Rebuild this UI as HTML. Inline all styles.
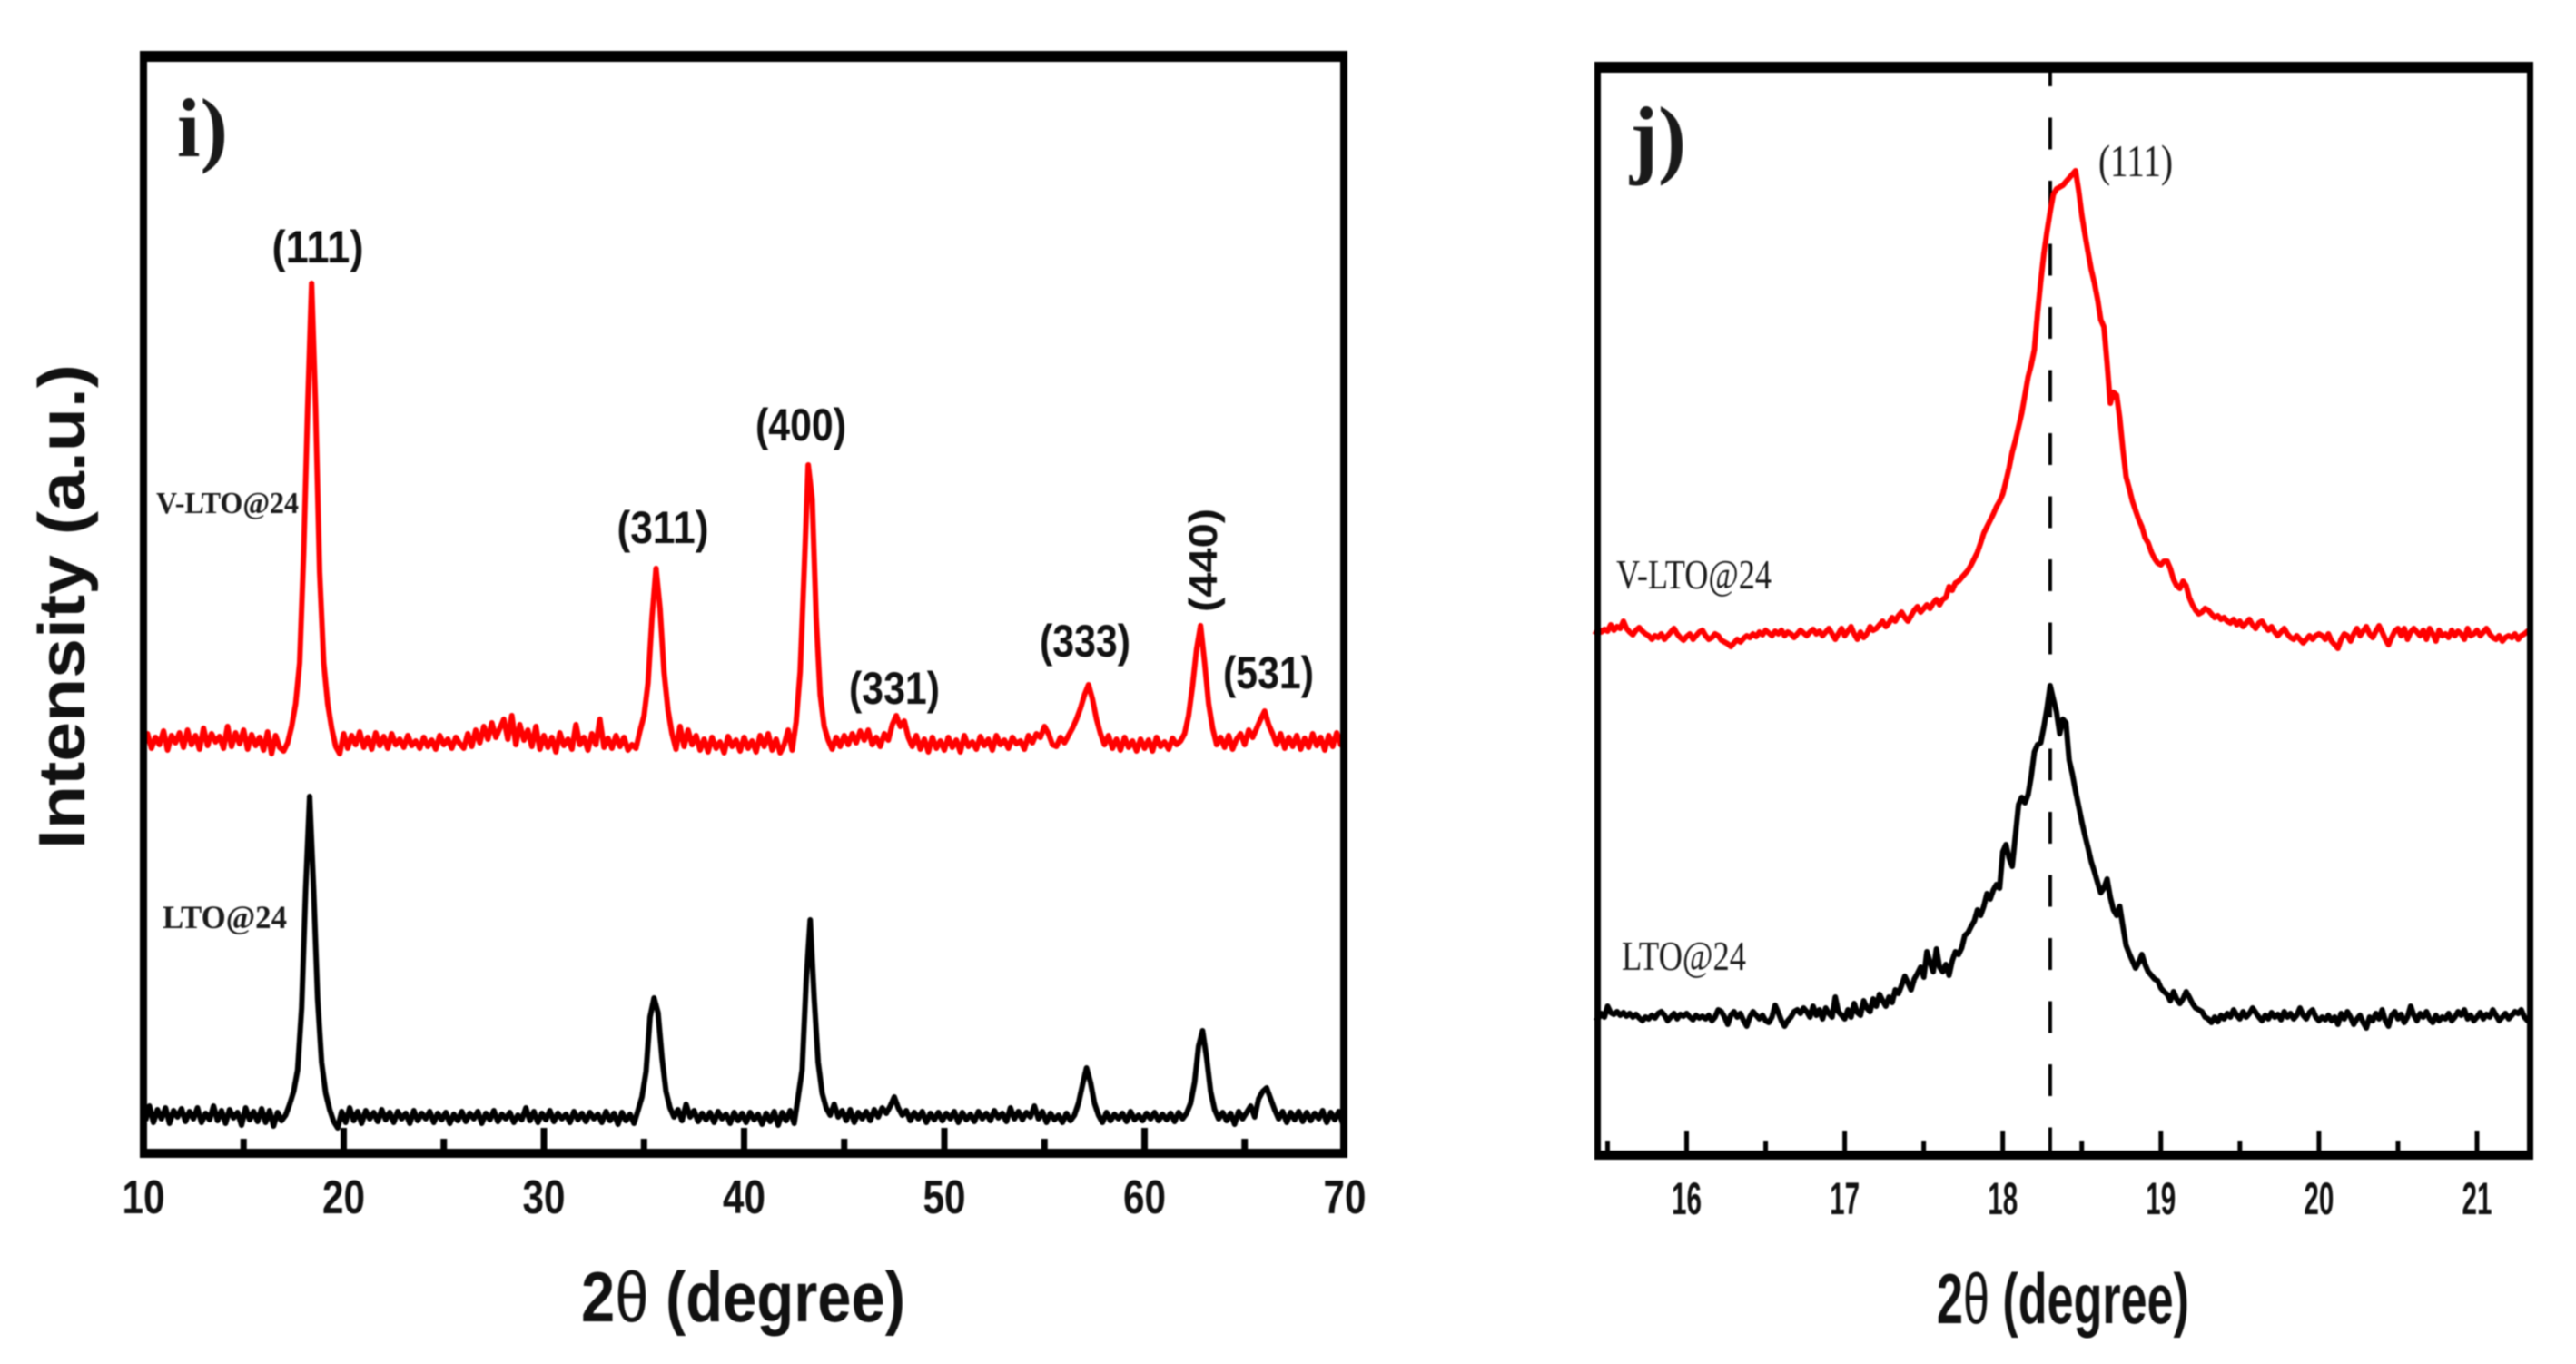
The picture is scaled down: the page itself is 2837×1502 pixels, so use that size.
<!DOCTYPE html>
<html lang="en">
<head>
<meta charset="utf-8">
<title>XRD patterns of V-LTO@24 and LTO@24</title>
<style>
html,body{margin:0;padding:0;background:#fff;width:2837px;height:1502px;overflow:hidden}
svg{display:block;filter:blur(0.8px)}
.sans{font-family:"Liberation Sans",Arial,sans-serif;font-weight:700;fill:#111}
.serif{font-family:"Liberation Serif","Times New Roman",serif;fill:#1a1a1a}
</style>
</head>
<body>
<svg id="figure" xmlns="http://www.w3.org/2000/svg" width="2837" height="1502" viewBox="0 0 2837 1502">
  <rect x="0" y="0" width="2837" height="1502" fill="#fff"/>

  <g id="panel-i">
    <g id="series-i"></g>
    <g fill="#000">
      <rect x="154" y="56" width="1330" height="12"/>
      <rect x="154" y="1265" width="1330" height="10"/>
      <rect x="154" y="56" width="8" height="1219"/>
      <rect x="1476" y="56" width="8" height="1219"/>
    </g>
    <g id="ticks-i"></g>
    <text class="serif" x="195" y="172" font-size="92" font-weight="700" textLength="56" lengthAdjust="spacingAndGlyphs">i)</text>
    <text class="sans" x="350" y="289" font-size="50" text-anchor="middle" textLength="101" lengthAdjust="spacingAndGlyphs">(111)</text>
    <text class="sans" x="730" y="598" font-size="50" text-anchor="middle" textLength="101" lengthAdjust="spacingAndGlyphs">(311)</text>
    <text class="sans" x="882" y="485" font-size="50" text-anchor="middle" textLength="100" lengthAdjust="spacingAndGlyphs">(400)</text>
    <text class="sans" x="985" y="775" font-size="50" text-anchor="middle" textLength="100" lengthAdjust="spacingAndGlyphs">(331)</text>
    <text class="sans" x="1195" y="723" font-size="50" text-anchor="middle" textLength="100" lengthAdjust="spacingAndGlyphs">(333)</text>
    <text class="sans" transform="translate(1340 617) rotate(-90)" font-size="44" text-anchor="middle" textLength="114" lengthAdjust="spacingAndGlyphs">(440)</text>
    <text class="sans" x="1397" y="758" font-size="50" text-anchor="middle" textLength="100" lengthAdjust="spacingAndGlyphs">(531)</text>
    <text class="serif" x="172" y="565" font-size="34" font-weight="700" textLength="157" lengthAdjust="spacingAndGlyphs">V-LTO@24</text>
    <text class="serif" x="179" y="1022" font-size="36" font-weight="700" textLength="137" lengthAdjust="spacingAndGlyphs">LTO@24</text>
    <text class="sans" transform="translate(93 668) rotate(-90)" font-size="72" text-anchor="middle" textLength="534" lengthAdjust="spacingAndGlyphs">Intensity (a.u.)</text>
    <text class="sans" x="640" y="1455" font-size="78" textLength="357" lengthAdjust="spacingAndGlyphs">2<tspan font-weight="400">θ</tspan> (degree)</text>
  </g>

  <g id="panel-j">
    <g id="series-j"></g>
    <g fill="#000">
      <rect x="1756" y="68" width="1034" height="12"/>
      <rect x="1756" y="1267" width="1034" height="10"/>
      <rect x="1756" y="68" width="7" height="1209"/>
      <rect x="2783" y="68" width="7" height="1209"/>
    </g>
    <g id="ticks-j"></g>
    <text class="serif" x="1795" y="184" font-size="96" font-weight="700" textLength="62" lengthAdjust="spacingAndGlyphs">j)</text>
    <text class="serif" x="2311" y="194" font-size="50" textLength="82" lengthAdjust="spacingAndGlyphs">(111)</text>
    <text class="serif" x="1780" y="648" font-size="46" textLength="171" lengthAdjust="spacingAndGlyphs">V-LTO@24</text>
    <text class="serif" x="1786" y="1068" font-size="46" textLength="137" lengthAdjust="spacingAndGlyphs">LTO@24</text>
    <text class="sans" x="2133" y="1457" font-size="78" textLength="278" lengthAdjust="spacingAndGlyphs">2<tspan font-weight="400">θ</tspan> (degree)</text>
  </g>
</svg>

<script>
// Panel i: 2-theta sampling (degrees)
const panelIRedStart = 10.0;
const panelIBlackStart = 10.1;
const panelIStep = 0.2;

// Panel i: intensity (a.u.), V-LTO@24
const panelIRedValues = [
448,462,446,458,450,465,444,460,452,463,
447,466,450,460,445,468,449,462,453,459,
446,470,448,463,451,466,445,461,449,458,
444,464,440,460,447,443,452,470,495,540,
660,820,958,820,640,540,495,468,448,440,
462,446,460,450,464,447,458,445,463,449,
459,446,462,450,456,447,460,449,454,446,
458,448,455,445,460,450,456,446,458,451,
446,462,448,466,452,470,456,474,458,468,
478,456,482,450,472,455,466,448,470,445,
460,447,458,442,463,449,456,445,472,450,
458,444,462,450,478,447,457,446,460,448,
458,444,450,446,465,482,518,590,644,600,
530,488,462,445,470,448,466,450,460,444,
456,442,458,446,453,441,459,448,455,443,
458,446,454,442,460,448,462,444,456,441,
450,466,444,475,530,640,758,720,590,505,
470,455,445,458,448,460,450,462,452,465,
455,466,450,458,448,462,455,472,482,470,
476,458,448,460,445,456,442,458,446,454,
444,458,447,455,442,460,448,453,445,459,
449,456,444,460,450,455,446,458,451,454,
445,460,452,462,458,470,462,450,448,458,
452,460,468,478,490,505,516,500,478,462,
450,460,446,456,444,458,447,454,443,456,
446,455,443,458,448,453,445,457,450,454,
462,482,515,555,581,540,495,468,450,458,
447,460,445,456,462,450,466,458,468,478,
487,472,462,450,462,446,458,448,460,445,
457,447,462,449,458,444,460,448,463,450,
455];

// Panel i: intensity (a.u.), LTO@24
const panelIBlackValues = [
36,52,34,48,38,50,33,47,40,49,
35,46,38,50,34,44,37,52,36,47,
33,48,39,45,31,50,37,46,35,49,
34,47,30,45,36,42,54,68,92,160,
290,393,290,170,100,66,48,35,28,46,
34,50,36,46,33,47,38,45,35,48,
37,45,34,46,38,44,33,47,36,44,
38,46,34,44,37,45,33,43,36,46,
35,44,38,46,33,44,37,47,35,43,
38,45,34,42,37,50,36,46,34,44,
37,47,35,44,38,43,34,46,37,44,
35,45,38,43,34,46,36,44,32,45,
36,43,33,47,62,90,150,171,155,105,
68,50,40,48,36,54,40,47,35,44,
37,45,34,46,38,43,33,45,36,44,
34,45,37,43,32,44,35,46,31,45,
36,47,33,62,92,190,257,170,100,66,
50,42,54,40,47,36,48,34,45,38,
46,36,48,40,50,44,52,62,50,42,
47,36,45,38,46,34,44,37,45,36,
44,38,46,34,45,37,43,35,46,38,
44,36,47,39,44,35,50,38,46,37,
45,40,52,38,46,34,44,37,42,34,
44,36,42,55,75,94,78,55,42,34,
45,36,43,38,44,35,46,37,42,36,
44,38,45,36,43,37,44,35,45,38,
44,55,78,118,135,105,68,48,38,45,
36,44,32,46,38,45,52,40,60,68,
72,60,48,38,46,34,45,37,46,35,
45,36,44,38,47,34,45,37,46,33];

// Panel j: 2-theta sampling (degrees)
const panelJStart = 15.42;
const panelJStep = 0.02;

// Panel j: intensity (a.u.), V-LTO@24
const panelJRedValues = [
571,578,574,577,575,582,576,580,578,586,
578,574,571,576,579,575,572,570,566,570,
568,572,566,570,574,578,572,568,565,569,
572,566,570,574,576,570,566,568,572,570,
565,563,561,558,562,566,563,567,570,568,
572,569,574,571,576,573,570,575,572,576,
570,574,572,568,572,576,573,570,574,577,
572,575,570,574,578,572,566,572,578,570,
575,580,572,566,574,568,572,580,576,578,
582,586,580,584,590,586,592,596,590,586,
592,598,602,596,600,604,600,606,610,604,
610,612,624,620,628,630,634,638,642,648,
655,662,672,683,690,697,704,712,718,726,
740,755,772,785,800,815,835,855,868,885,
925,960,991,1015,1037,1056,1062,1064,1066,1070,
1074,1078,1082,1060,1033,1012,992,973,958,940,
918,910,870,826,838,835,810,775,745,732,
718,708,698,690,678,672,662,655,650,648,
652,652,644,632,625,622,630,625,612,604,
598,594,596,600,598,594,590,592,588,590,
586,584,588,582,586,580,584,588,582,578,
584,586,580,576,580,574,570,574,578,572,
568,566,570,566,562,566,570,566,570,572,
570,566,572,564,560,556,566,572,570,564,
572,578,570,575,580,572,568,575,581,574,
566,560,568,575,578,570,578,566,574,578,
574,570,576,566,578,572,564,576,570,572,
568,576,570,575,572,566,578,570,572,576,
570,574,578,572,568,566,570,564,568,570,
568,572,566,570,572,575,578];

// Panel j: intensity (a.u.), LTO@24
const panelJBlackValues = [
150,148,154,150,162,155,153,156,152,155,
151,154,150,153,149,146,150,148,152,149,
154,156,152,146,150,154,148,153,151,154,
150,147,152,149,151,148,152,146,150,158,
156,150,142,152,156,150,154,146,140,150,
156,152,148,152,146,144,150,163,155,146,
140,146,150,156,158,154,160,156,150,162,
152,158,148,160,154,150,172,156,152,148,
158,150,165,155,152,168,160,156,170,162,
175,168,162,172,166,180,176,185,195,188,
180,192,198,205,194,222,210,200,225,205,
200,208,196,212,222,219,226,240,243,250,
256,268,262,272,286,280,290,296,292,332,
340,325,316,350,384,392,386,395,415,442,
450,452,470,490,515,500,486,462,478,474,
433,418,399,382,365,350,336,321,310,298,
287,292,302,282,268,262,272,250,229,220,
212,204,210,219,208,200,196,192,190,182,
178,175,168,178,170,165,170,178,172,165,
160,158,156,150,148,144,150,145,152,148,
154,150,158,152,148,156,150,154,160,155,
150,146,152,148,155,150,153,147,156,150,
154,148,152,160,152,148,155,158,150,146,
150,147,152,146,150,142,154,148,156,150,
142,148,152,144,138,150,146,154,148,158,
146,140,152,156,148,153,144,150,162,152,
146,154,150,156,148,144,152,146,150,148,
154,146,150,156,152,158,148,152,146,150,
155,148,153,150,158,152,146,150,154,148,
152,156,154,158,150,146,152];

// Tick labels
const panelIMajorTicks = [10,20,30,40,50,60,70];
const panelIMinorTicks = [15,25,35,45,55,65];
const panelJMajorTicks = [16,17,18,19,20,21];
const panelJMinorTicks = [15.5,16.5,17.5,18.5,19.5,20.5];
const referenceLineTheta = [18.3];

// Axis functions
function xI(t){ return 158 + (t - 10) * 22.05; }
function xJ(t){ return 1857.5 + (t - 16) * 174.1; }
function yAxis(v){ return 1270 - v; }

const NS = 'http://www.w3.org/2000/svg';

function drawLine(parent, values, start, step, xFn, color, width){
  const pts = values.map(function(v, i){
    return xFn(start + i * step).toFixed(1) + ',' + yAxis(v).toFixed(1);
  });
  const line = document.createElementNS(NS, 'polyline');
  line.setAttribute('points', pts.join(' '));
  line.setAttribute('fill', 'none');
  line.setAttribute('stroke', color);
  line.setAttribute('stroke-width', width);
  line.setAttribute('stroke-linejoin', 'round');
  parent.appendChild(line);
  return line;
}

const seriesI = document.getElementById('series-i');
const seriesJ = document.getElementById('series-j');

const lineIRed = drawLine(seriesI, panelIRedValues, panelIRedStart, panelIStep, xI, '#ff0000', 6);


const lineIBlack = drawLine(seriesI, panelIBlackValues, panelIBlackStart, panelIStep, xI, '#000000', 6);



referenceLineTheta.forEach(function(t){
  const dash = document.createElementNS(NS, 'line');
  dash.setAttribute('x1', xJ(t));
  dash.setAttribute('x2', xJ(t));
  dash.setAttribute('y1', 80);
  dash.setAttribute('y2', 1267);
  dash.setAttribute('stroke', '#000');
  dash.setAttribute('stroke-width', 4);
  dash.setAttribute('stroke-dasharray', '35 34.5');
  dash.setAttribute('stroke-dashoffset', 20);
  
  
  seriesJ.appendChild(dash);
});

const lineJRed = drawLine(seriesJ, panelJRedValues, panelJStart, panelJStep, xJ, '#ff0000', 6);


const lineJBlack = drawLine(seriesJ, panelJBlackValues, panelJStart, panelJStep, xJ, '#000000', 6);



function drawTick(parent, x, top, bottom, width){
  const tick = document.createElementNS(NS, 'rect');
  tick.setAttribute('x', x - width / 2);
  tick.setAttribute('y', top);
  tick.setAttribute('width', width);
  tick.setAttribute('height', bottom - top);
  tick.setAttribute('fill', '#000');
  parent.appendChild(tick);
  return tick;
}

function drawTickLabel(parent, x, y, label, size, len){
  const text = document.createElementNS(NS, 'text');
  text.setAttribute('class', 'sans');
  text.setAttribute('x', x);
  text.setAttribute('y', y);
  text.setAttribute('font-size', size);
  text.setAttribute('text-anchor', 'middle');
  text.setAttribute('textLength', len);
  text.setAttribute('lengthAdjust', 'spacingAndGlyphs');
  text.textContent = label;
  parent.appendChild(text);
  return text;
}

const ticksI = document.getElementById('ticks-i');
const ticksJ = document.getElementById('ticks-j');

panelIMajorTicks.forEach(function(t){
  if (t > 10 && t < 70) {
    const tick = drawTick(ticksI, xI(t), 1242, 1266, 7);
    
    
  }
  const label = drawTickLabel(ticksI, xI(t), 1336, String(t), 52, 47);
  
  
});
panelIMinorTicks.forEach(function(t){
  const tick = drawTick(ticksI, xI(t), 1254, 1266, 7);
  
  
});
panelJMajorTicks.forEach(function(t){
  const tick = drawTick(ticksJ, xJ(t), 1245, 1268, 5);
  
  
  const label = drawTickLabel(ticksJ, xJ(t), 1337, String(t), 50, 33);
  
  
});
panelJMinorTicks.forEach(function(t){
  const tick = drawTick(ticksJ, xJ(t), 1256, 1268, 5);
  
  
});
</script>
</body>
</html>
